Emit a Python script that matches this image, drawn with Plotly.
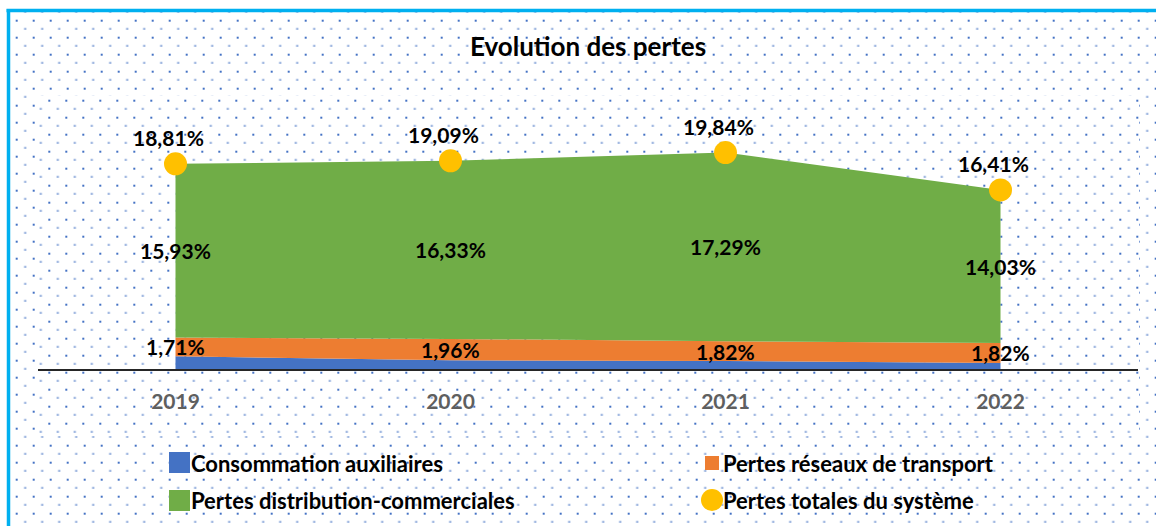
import base64
import plotly.graph_objects as go

# Loss shares (% of energy) per year
years = ["2019", "2020", "2021", "2022"]
auxiliaires = [1.17, 0.80, 0.73, 0.56]
transport = [1.71, 1.96, 1.82, 1.82]
distribution = [15.93, 16.33, 17.29, 14.03]
totales = [18.81, 19.09, 19.84, 16.41]

series_names = [
    "Consommation auxiliaires",
    "Pertes réseaux de transport",
    "Pertes distribution-commerciales",
    "Pertes totales du système",
]
colors = ["#4472C4", "#ED7D31", "#70AD47", "#FFC000"]

W, H = 1156, 526
FONT = "Lato"


def fx(p):
    return p / W


def fy(p):
    return 1 - p / H


def pct(v):
    return f"{v:.2f}".replace(".", ",") + "%"


def dot_pattern(w, h, ox, oy):
    svg = (
        f'<svg xmlns="http://www.w3.org/2000/svg" width="{w}" height="{h}" viewBox="0 0 {w} {h}">'
        f'<defs><pattern id="d" patternUnits="userSpaceOnUse" x="{ox}" y="{oy}" width="17" height="17">'
        '<rect x="0" y="0" width="2" height="2" fill="#4472C4"/>'
        '<rect x="8.5" y="8.5" width="2" height="1.3" fill="#4472C4"/>'
        '</pattern></defs>'
        f'<rect width="{w}" height="{h}" fill="#ffffff"/>'
        f'<rect width="{w}" height="{h}" fill="url(#d)"/></svg>'
    )
    return "data:image/svg+xml;base64," + base64.b64encode(svg.encode()).decode()


xs = list(range(len(years)))

fig = go.Figure()
for vals, name, col in zip([auxiliaires, transport, distribution], series_names[:3], colors[:3]):
    fig.add_trace(go.Scatter(
        x=xs, y=vals, name=name, mode="none", stackgroup="pertes",
        fillcolor=col, line=dict(width=0), showlegend=False, hoverinfo="skip",
    ))

fig.add_trace(go.Scatter(
    x=xs, y=totales, name=series_names[3], mode="markers",
    marker=dict(size=23, color=colors[3]), showlegend=False,
))

label_font = dict(family=FONT, size=21, color="#000000", weight="bold")
annotations = []
for i in xs:
    # transport band label (centre of band)
    annotations.append(dict(
        x=i, y=auxiliaires[i] + transport[i] / 2, xref="x", yref="y",
        text=pct(transport[i]), showarrow=False, font=label_font,
    ))
    # distribution band label
    annotations.append(dict(
        x=i, y=auxiliaires[i] + transport[i] + distribution[i] / 2, xref="x", yref="y",
        text=pct(distribution[i]), showarrow=False, font=label_font,
    ))
    # total label above the marker
    annotations.append(dict(
        x=i, y=totales[i], xref="x", yref="y", yshift=26, xshift=-7,
        text=pct(totales[i]), showarrow=False, font=label_font,
    ))

# legend drawn in two rows / two columns
legend_font = dict(family=FONT, size=22, color="#000000", weight="bold")
legend_items = [
    (series_names[0], colors[0], "rect", 169, 452, 190, 473, 189, 463),
    (series_names[1], colors[1], "rect", 705, 456, 719, 470, 721, 463),
    (series_names[2], colors[2], "rect", 169, 490, 190, 511, 189, 500),
    (series_names[3], colors[3], "circle", 701, 489, 723, 511, 721, 500),
]
shapes = []
for name, col, kind, x0, y0, x1, y1, tx, ty in legend_items:
    shapes.append(dict(
        type=kind, xref="paper", yref="paper",
        x0=fx(x0), x1=fx(x1), y0=fy(y1), y1=fy(y0),
        fillcolor=col, line=dict(width=0), layer="above",
    ))
    annotations.append(dict(
        x=fx(tx), y=fy(ty), xref="paper", yref="paper", xanchor="left", yanchor="middle",
        text=name, showarrow=False, font=legend_font,
    ))

# chart frame (top and left edges)
frame = "#00B0F0"
shapes.append(dict(type="line", xref="paper", yref="paper", x0=fx(6.5), x1=1.02,
                   y0=fy(10.5), y1=fy(10.5), line=dict(color=frame, width=3.5)))
shapes.append(dict(type="line", xref="paper", yref="paper", x0=fx(8.5), x1=fx(8.5),
                   y0=fy(9), y1=-0.02, line=dict(color=frame, width=3.5)))

images = [
    dict(source=dot_pattern(1146, 514, 5.7, 7.7), xref="paper", yref="paper",
         x=fx(10), y=fy(12), sizex=1146 / W, sizey=514 / H,
         xanchor="left", yanchor="top", sizing="stretch", layer="below"),
    dict(source=dot_pattern(1100, 340, 9.3, 3.7), xref="paper", yref="paper",
         x=fx(39), y=fy(96), sizex=1100 / W, sizey=340 / H,
         xanchor="left", yanchor="top", sizing="stretch", layer="below"),
]

fig.update_layout(
    width=W, height=H,
    margin=dict(l=0, r=0, t=0, b=0),
    paper_bgcolor="#ffffff",
    plot_bgcolor="rgba(0,0,0,0)",
    showlegend=False,
    title=dict(
        text="Evolution des pertes", x=fx(588), y=fy(47), xanchor="center", yanchor="middle",
        font=dict(family=FONT, size=26, color="#000000", weight="bold"),
    ),
    xaxis=dict(
        domain=[fx(38), fx(1138)], range=[-0.5, 3.5],
        tickvals=xs, ticktext=years, showgrid=False, zeroline=False,
        showline=True, linecolor="#262626", linewidth=2, ticks="",
        ticklabelstandoff=13,
        tickfont=dict(family=FONT, size=21, color="#5F5F5F", weight="bold"),
    ),
    yaxis=dict(
        domain=[fy(369), fy(129)], range=[0, 22], visible=False,
    ),
    annotations=annotations,
    shapes=shapes,
    images=images,
)

fig.write_html("out.html")
